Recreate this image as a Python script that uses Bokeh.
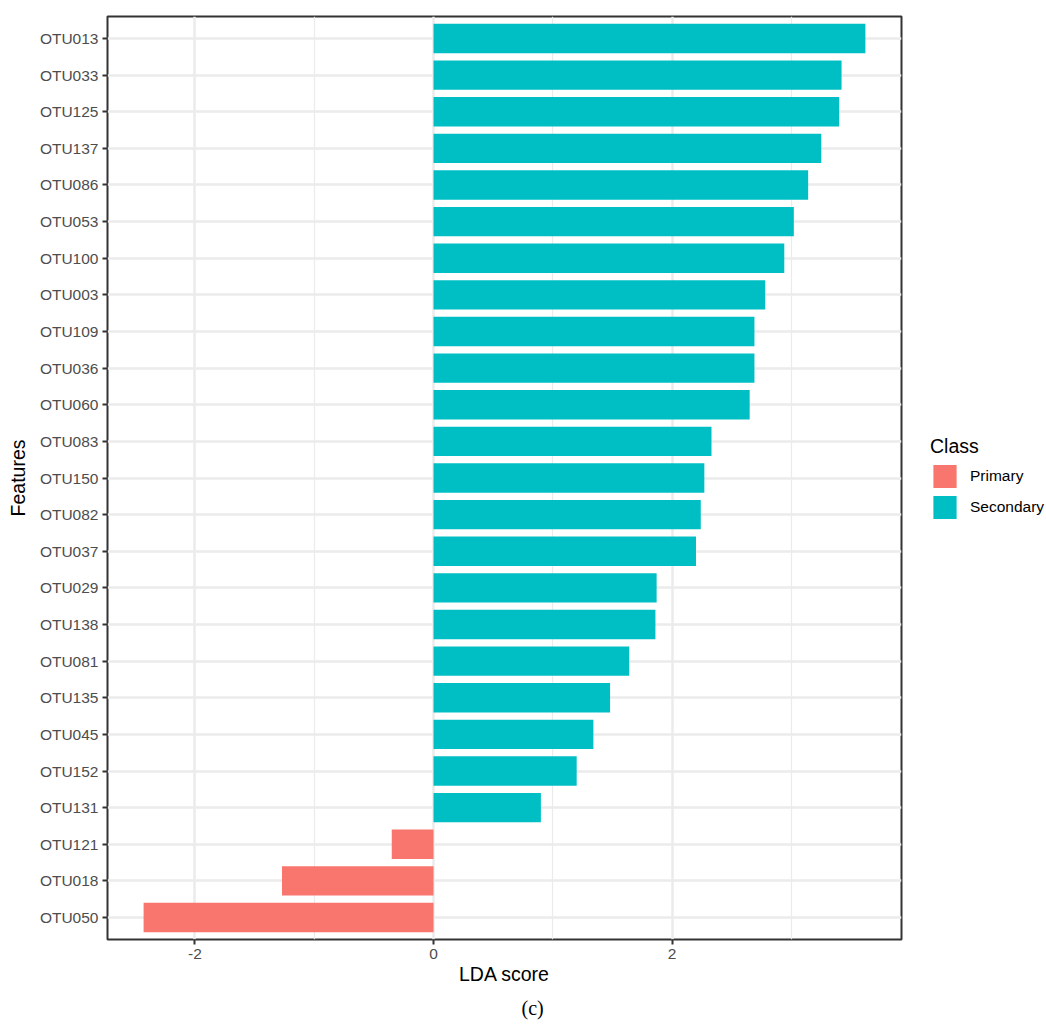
from bokeh.plotting import figure
from bokeh.models import (ColumnDataSource, FactorRange, Range1d, FixedTicker,
                          Legend, LegendItem, Title)
from bokeh.embed import file_html
from bokeh.resources import INLINE

# LDA effect sizes per feature (top to bottom as listed)
features = ["OTU013", "OTU033", "OTU125", "OTU137", "OTU086", "OTU053", "OTU100",
            "OTU003", "OTU109", "OTU036", "OTU060", "OTU083", "OTU150", "OTU082",
            "OTU037", "OTU029", "OTU138", "OTU081", "OTU135", "OTU045", "OTU152",
            "OTU131", "OTU121", "OTU018", "OTU050"]
scores = [3.62, 3.42, 3.40, 3.25, 3.14, 3.02, 2.94, 2.78, 2.69, 2.69, 2.65, 2.33,
          2.27, 2.24, 2.20, 1.87, 1.86, 1.64, 1.48, 1.34, 1.20, 0.90, -0.35,
          -1.27, -2.43]
classes = ["Secondary"] * 22 + ["Primary"] * 3

class_names = ["Primary", "Secondary"]
class_colors = {"Primary": "#F8766D", "Secondary": "#00BFC4"}
x_ticks = [-2, 0, 2]
x_minor = [-1, 1, 3]
x_tick_labels = ["-2", "0", "2"]

FONT = "Liberation Sans"

lo, hi = min(min(scores), 0), max(max(scores), 0)
pad = 0.05 * (hi - lo)

p = figure(frame_width=794, frame_height=923,
           output_backend="svg", toolbar_location=None,
           y_range=FactorRange(factors=features[::-1], range_padding=0.008,
                               range_padding_units="percent"),
           x_range=Range1d(lo - pad, hi + pad),
           min_border_left=107, min_border_right=145,
           min_border_top=16, min_border_bottom=86)

p.background_fill_color = "white"
p.border_fill_color = "white"
p.outline_line_color = "#333333"
p.outline_line_width = 2

# grid lines in the theme_bw style
p.xaxis.ticker = FixedTicker(ticks=x_ticks, minor_ticks=x_minor)
p.xaxis.major_label_overrides = dict(zip(x_ticks, x_tick_labels))
p.xgrid.grid_line_color = "#EBEBEB"
p.xgrid.grid_line_width = 2.5
p.xgrid.minor_grid_line_color = "#EBEBEB"
p.xgrid.minor_grid_line_width = 1.2
p.ygrid.grid_line_color = "#EBEBEB"
p.ygrid.grid_line_width = 2.5

items = []
for cls in class_names:
    idx = [i for i, c in enumerate(classes) if c == cls]
    src = ColumnDataSource(dict(y=[features[i] for i in idx],
                                right=[scores[i] for i in idx]))
    r = p.hbar(y="y", left=0, right="right", height=0.8, source=src,
               fill_color=class_colors[cls], line_color=None)
    items.append(LegendItem(label=cls, renderers=[r]))

for ax in (p.xaxis, p.yaxis):
    ax.axis_line_color = None
    ax.major_tick_in = 0
    ax.major_tick_out = 5
    ax.major_tick_line_color = "#333333"
    ax.major_tick_line_width = 2
    ax.minor_tick_line_color = None
    ax.major_label_text_font = FONT
    ax.major_label_text_font_size = "15.5px"
    ax.major_label_text_color = "#4D4D4D"
    ax.major_label_standoff = 4
    ax.axis_label_text_font = FONT
    ax.axis_label_text_font_size = "19.5px"
    ax.axis_label_text_font_style = "normal"
    ax.axis_label_text_color = "black"

p.xaxis.axis_label = "LDA score"
p.yaxis.axis_label = "Features"
p.xaxis.axis_label_standoff = 1
p.yaxis.axis_label_standoff = 8

legend = Legend(items=items, title="Class", location="left",
                title_text_font=FONT, title_text_font_size="19.5px",
                title_text_font_style="normal", title_text_color="black",
                title_standoff=4,
                label_text_font=FONT, label_text_font_size="15.5px",
                label_text_color="black", label_standoff=11,
                glyph_width=29, glyph_height=29, spacing=2,
                padding=0, margin=29,
                border_line_color=None, background_fill_alpha=0)
p.add_layout(legend, "right")

caption = Title(text="(c)", align="left", offset=414, standoff=14,
                text_font="Liberation Serif", text_font_size="20px",
                text_font_style="normal", text_color="black")
p.add_layout(caption, "below")

open("out.html", "w").write(file_html(p, INLINE))
